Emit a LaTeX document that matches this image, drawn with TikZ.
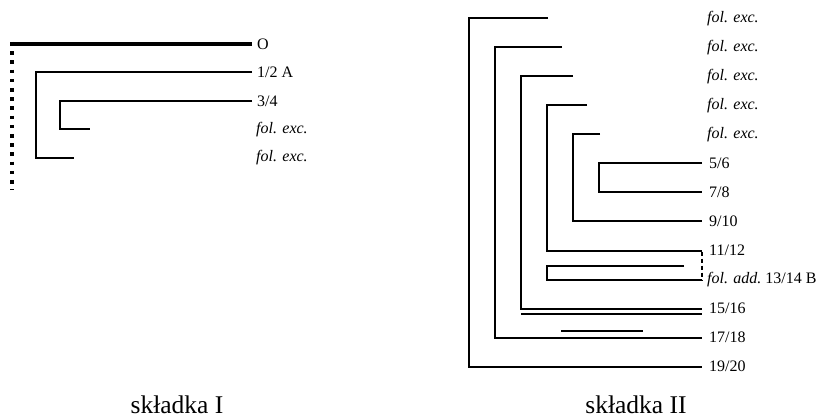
\documentclass[tikz,border=0pt]{standalone}
\usepackage{fontspec}
\setmainfont{Liberation Serif}
\begin{document}
\begin{tikzpicture}[x=1pt,y=-1pt,
  thin line/.style={line width=2pt, line join=miter},
  thick line/.style={line width=4pt},
  dotline/.style={line width=4pt, dash pattern=on 3.6pt off 5.6pt},
  dashline/.style={line width=2pt, dash pattern=on 4pt off 3pt},
  lab/.style={anchor=west, inner sep=0pt, font=\fontsize{16}{19}\selectfont},
  captext/.style={anchor=base, inner sep=0pt, font=\fontsize{25.5}{30}\selectfont}]
\useasboundingbox (0,0) rectangle (820,417);
% ---------- skladka I ----------
\node[lab] (o) at (257,44) {O};
\node[lab] (a12) at (257,72) {1/2 A};
\node[lab] (a34) at (257,101) {3/4};
\node[lab] (e1) at (256,129.5) {\itshape fol. exc.};
\node[lab] (e2) at (256,158) {\itshape fol. exc.};
\draw[thick line] (252,44) -- (10,44);
\draw[dotline] (12,42) -- (12,190);
\draw[thin line] (252,72) -- (36,72) -- (36,158) -- (74,158);
\draw[thin line] (252,101) -- (60,101) -- (60,129.5) -- (90,129.5);
\node[captext] (c1) at (177,413) {składka I};
% ---------- skladka II ----------
\foreach \i in {0,1,2,3,4}
  \node[lab] (f\i) at (707,18.5+29*\i) {\itshape fol. exc.};
\node[lab] (n56) at (709,163.5) {5/6};
\node[lab] (n78) at (709,192.5) {7/8};
\node[lab] (n910) at (709,221.5) {9/10};
\node[lab] (n1112) at (709,250.5) {11/12};
\node[lab] (n1314) at (707,279.5) {\itshape fol. add.\upshape\ 13/14 B};
\node[lab] (n1516) at (709,308.5) {15/16};
\node[lab] (n1718) at (709,337.5) {17/18};
\node[lab] (n1920) at (709,366.5) {19/20};
\draw[thin line] (548,18.5) -- (469,18.5) -- (469,366.5) -- (702,366.5);
\draw[thin line] (562,47.5) -- (495,47.5) -- (495,337.5) -- (702,337.5);
\draw[thin line] (573,76.5) -- (521,76.5) -- (521,308.5) -- (702,308.5);
\draw[thin line] (587,105.5) -- (547,105.5) -- (547,250.5) -- (702,250.5);
\draw[thin line] (600,134.5) -- (573,134.5) -- (573,221.5) -- (702,221.5);
\draw[thin line] (702,163.5) -- (599,163.5) -- (599,192.5) -- (702,192.5);
\draw[thin line] (684,265.5) -- (547,265.5) -- (547,279.5) -- (702,279.5);
\draw[dashline] (702,251.5) -- (702,280.5);
\draw[thin line] (521,314) -- (702,314);
\draw[thin line] (561,331) -- (643,331);
\node[captext] (c2) at (636,413) {składka II};
\end{tikzpicture}
\end{document}
